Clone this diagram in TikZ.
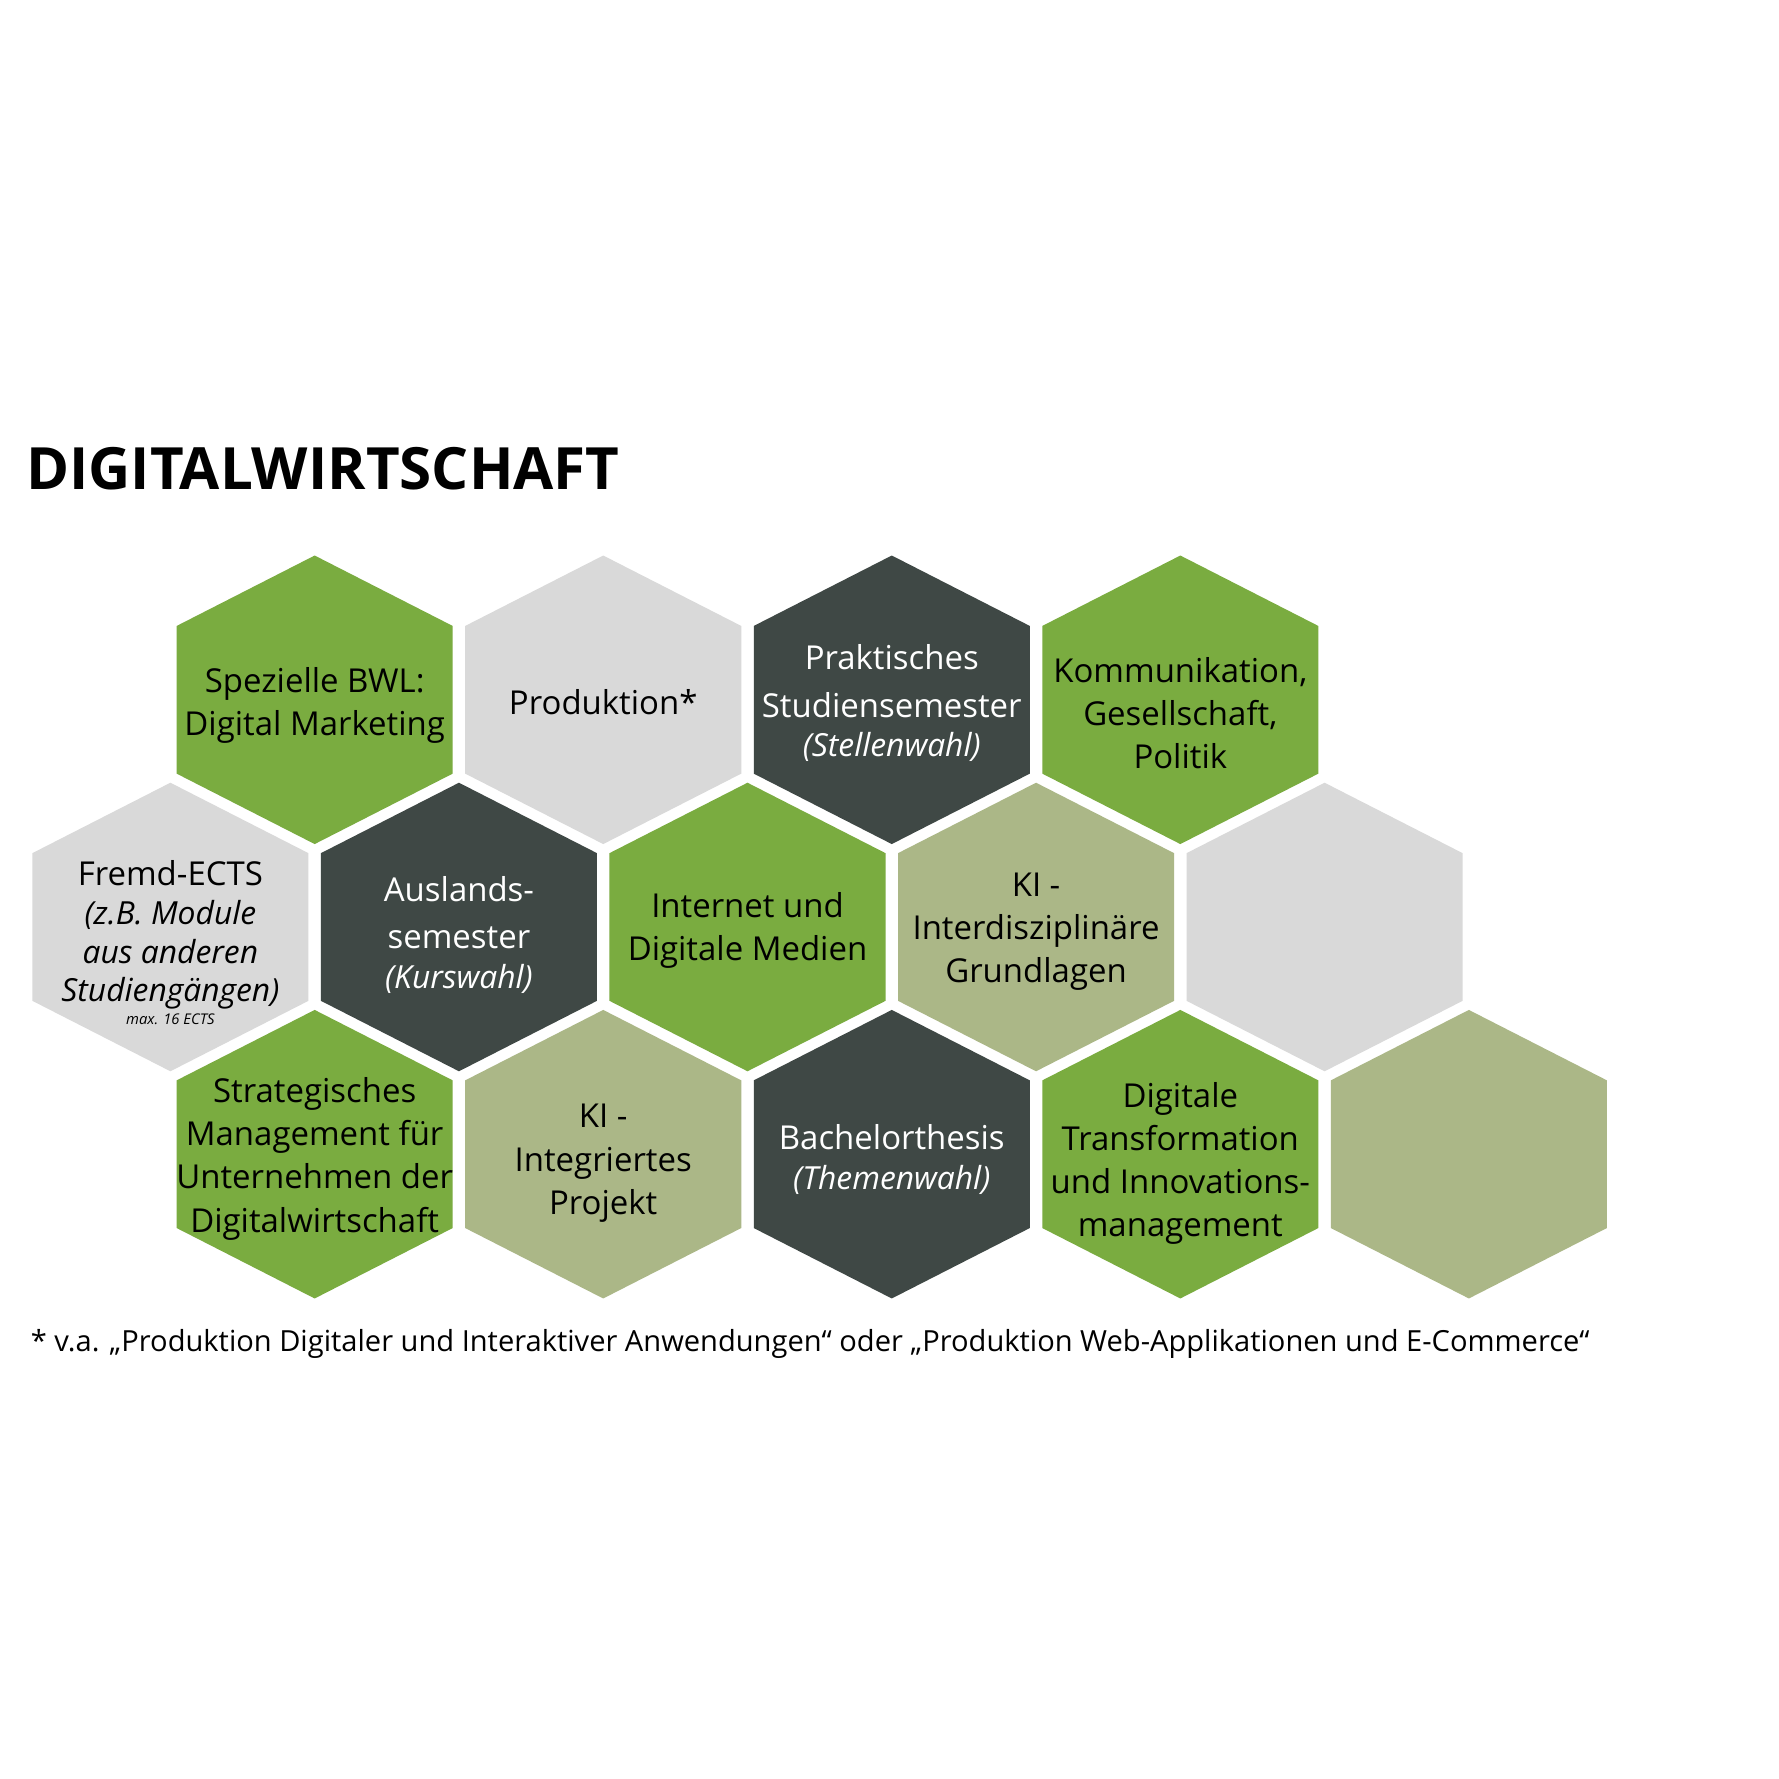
\documentclass[tikz,border=0pt]{standalone}
\usepackage{fontspec}
\setmainfont{Open Sans}
\definecolor{hgreen}{HTML}{7AAC40}
\definecolor{hgray}{HTML}{D9D9D9}
\definecolor{hdark}{HTML}{3F4845}
\definecolor{holive}{HTML}{ABB787}
\newcommand\hexat[3]{\fill[#3] (#1,#2) ++(0,-127) -- ++(121.5,62) -- ++(0,130) -- ++(-121.5,62) -- ++(-121.5,-62) -- ++(0,-130) -- cycle;}
\newcommand\itl[1]{{\fontsize{28}{34}\selectfont\itshape #1}}
\tikzset{
  lbl/.style={align=center, inner sep=0pt, font=\fontsize{29}{38}\selectfont, text=black},
  lblw/.style={lbl, text=white},
}
\begin{document}
\begin{tikzpicture}[x=1pt,y=-1pt]
\useasboundingbox (0,0) rectangle (1566,1566);
\fill[white] (0,0) rectangle (1566,1566);
\node[anchor=base west, inner sep=0pt, font=\fontsize{51.3}{60}\selectfont\bfseries] (title) at (23,431) {DIGITALWIRTSCHAFT};
% row 1
\hexat{277}{616}{hgreen}
\hexat{531}{616}{hgray}
\hexat{785}{616}{hdark}
\hexat{1039}{616}{hgreen}
% row 2
\hexat{150}{816}{hgray}
\hexat{404}{816}{hdark}
\hexat{658}{816}{hgreen}
\hexat{912}{816}{holive}
\hexat{1166}{816}{hgray}
% row 3
\hexat{277}{1016}{hgreen}
\hexat{531}{1016}{holive}
\hexat{785}{1016}{hdark}
\hexat{1039}{1016}{hgreen}
\hexat{1293}{1016}{holive}
% labels
\node[lbl] (t1) at (277,621) {Spezielle BWL:\\Digital Marketing};
\node[lbl] (t2) at (531,618) {Produktion*};
\node[lblw] (t3) at (785,619) {Praktisches\\[4pt]Studiensemester\\[-3pt]\itl{(Stellenwahl)}};
\node[lbl] (t4) at (1039,628) {Kommunikation,\\Gesellschaft,\\Politik};
\node[lbl] (t5) at (150,822.5) {Fremd-ECTS\\[-3pt]\itl{(z.B. Module}\\[-4pt]\itl{aus anderen}\\[-5pt]\itl{Studiengängen)}};
\node[inner sep=0pt, font=\fontsize{13}{15}\selectfont\itshape] (t5b) at (150,897) {max. 16 ECTS};
\node[lblw] (t6) at (404,823) {Auslands-\\[4pt]semester\\[-3pt]\itl{(Kurswahl)}};
\node[lbl] (t7) at (658,819) {Internet und\\Digitale Medien};
\node[lbl] (t8) at (912,820) {KI -\\Interdisziplinäre\\Grundlagen};
\node[lbl] (t9) at (277,1020) {Strategisches\\Management für\\Unternehmen der\\Digitalwirtschaft};
\node[lbl] (t10) at (531,1024) {KI -\\Integriertes\\Projekt};
\node[lblw] (t11) at (785,1020.5) {Bachelorthesis\\[-3pt]\itl{(Themenwahl)}};
\node[lbl] (t12) at (1039,1024) {Digitale\\Transformation\\und Innovations-\\management};
\node[anchor=base west, inner sep=0pt, font=\fontsize{25.6}{30}\selectfont] (foot) at (27,1190) {* v.a. „Produktion Digitaler und Interaktiver Anwendungen“ oder „Produktion Web-Applikationen und E-Commerce“};
\end{tikzpicture}
\end{document}
